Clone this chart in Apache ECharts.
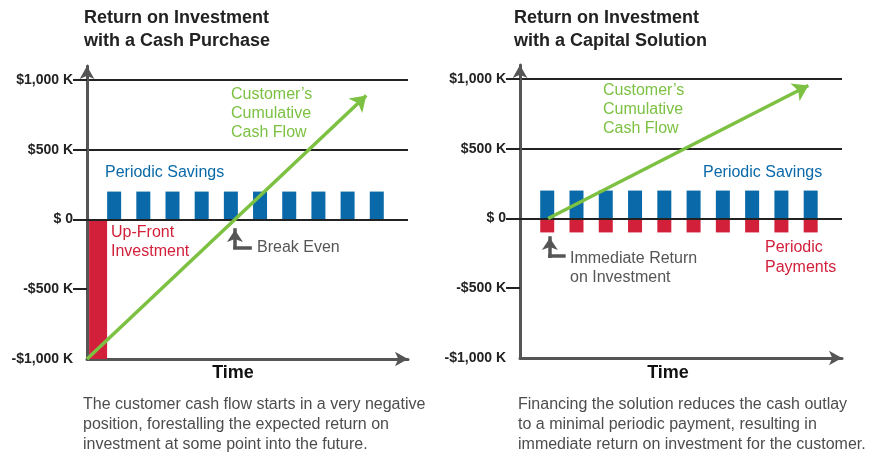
<!DOCTYPE html>
<html>
<head>
<meta charset="utf-8">
<script src="https://cdn.jsdelivr.net/npm/echarts@6/dist/echarts.min.js"></script>
<style>
html, body { margin: 0; padding: 0; background: #fff; }
#main { width: 875px; height: 452px; }
</style>
</head>
<body>
<div id="main"></div>
<script>
// values, in $K, time in periods
var yTicks = [-1000, -500, 0, 500, 1000];
var periods = [0.93, 1.93, 2.93, 3.93, 4.93, 5.93, 6.93, 7.93, 8.93, 9.93];

// cash purchase
var cashSavings = [200, 200, 200, 200, 200, 200, 200, 200, 200, 200];
var upFrontTime = [0.38];
var upFrontCost = [-1000];
var cashFlowTime = [0, 9.57];
var cashFlowValue = [-1000, 889];
var breakEvenTime = [5.07, 5.07, 5.59];
var breakEvenValue = [-75, -200, -200];

// capital solution
var capitalSavings = [200, 200, 200, 200, 200, 200, 200, 200, 200, 200];
var capitalPayments = [-100, -100, -100, -100, -100, -100, -100, -100, -100, -100];
var capitalFlowTime = [0.96, 9.85];
var capitalFlowValue = [0, 953];
var immediateTime = [1.02, 1.02, 1.5];
var immediateValue = [-140, -270, -270];

var BLUE = '#0a69a8';
var RED = '#d21f3a';
var GREEN = '#7cc142';
var GRAY = '#555555';
var DARK = '#222222';
var FONT = '"Liberation Sans", Arial, Helvetica, sans-serif';

function money(v) {
    if (v === 0) return '$ 0';
    var s = '$' + String(Math.abs(v)).replace(/\B(?=(\d{3})+(?!\d))/g, ',') + ' K';
    return v < 0 ? '-' + s : s;
}

function pairs(xs, ys) {
    return xs.map(function (x, i) { return [x, ys[i]]; });
}

function makeX(gridIndex, visible) {
    return {
        gridIndex: gridIndex, type: 'value', min: 0, max: 11, show: visible,
        axisLine: { show: true, onZero: false, symbol: ['none', 'arrow'], symbolSize: [11, 13],
            lineStyle: { color: GRAY, width: 3 } },
        axisTick: { show: false }, axisLabel: { show: false }, splitLine: { show: false }
    };
}

function makeY(gridIndex) {
    return {
        gridIndex: gridIndex, type: 'value', min: -1000, max: 1100, interval: 500,
        axisLine: { show: true, onZero: false, symbol: ['none', 'arrow'], symbolSize: [11, 13],
            lineStyle: { color: GRAY, width: 3 } },
        axisTick: { show: true, length: 14, customValues: yTicks.filter(function (v) { return v > -1000; }),
            lineStyle: { color: DARK, width: 2 } },
        axisLabel: { customValues: yTicks, formatter: money, margin: 14, color: DARK,
            fontSize: 14, fontWeight: 'bold', fontFamily: FONT },
        splitLine: { show: true, showMinLine: false, lineStyle: { color: DARK, width: 2 } }
    };
}

function elbow(xs, ys) {
    var st = { color: GRAY, width: 3.5, type: 'solid', cap: 'square' };
    return [
        [{ coord: [xs[0], ys[0]], symbol: 'arrow', symbolSize: 12, lineStyle: st }, { coord: [xs[1], ys[1]] }],
        [{ coord: [xs[1], ys[1]], lineStyle: st }, { coord: [xs[2], ys[2]] }]
    ];
}

function marks(flowX, flowY, elX, elY) {
    var data = [
        { yAxis: 0, lineStyle: { color: DARK, width: 2, type: 'solid' } },
        [{ coord: [flowX[0], flowY[0]], lineStyle: { color: GREEN, width: 3.5, type: 'solid' } },
         { coord: [flowX[1], flowY[1]], symbol: 'arrow', symbolSize: 15 }]
    ];
    return {
        silent: true, animation: false, symbol: ['none', 'none'],
        label: { show: false }, emphasis: { disabled: true },
        data: data.concat(elbow(elX, elY))
    };
}

var notes = [
    { x: 105, y: [173], lines: ['Periodic Savings'], color: BLUE },
    { x: 231, y: [95, 114, 133], lines: ['Customer’s', 'Cumulative', 'Cash Flow'], color: GREEN },
    { x: 111, y: [233, 252], lines: ['Up-Front', 'Investment'], color: RED },
    { x: 257, y: [248], lines: ['Break Even'], color: GRAY },
    { x: 603, y: [91, 110, 129], lines: ['Customer’s', 'Cumulative', 'Cash Flow'], color: GREEN },
    { x: 703, y: [173], lines: ['Periodic Savings'], color: BLUE },
    { x: 765, y: [248, 268], lines: ['Periodic', 'Payments'], color: RED },
    { x: 570, y: [259, 278], lines: ['Immediate Return', 'on Investment'], color: GRAY }
];
var captions = [
    { x: 83, lines: ['The customer cash flow starts in a very negative',
        'position, forestalling the expected return on',
        'investment at some point into the future.'] },
    { x: 518, lines: ['Financing the solution reduces the cash outlay',
        'to a minimal periodic payment, resulting in',
        'immediate return on investment for the customer.'] }
];

var graphics = [];
notes.forEach(function (n) {
    n.lines.forEach(function (t, i) {
        graphics.push({ type: 'text', x: n.x, y: n.y[i], silent: true,
            style: { text: t, fill: n.color, font: '16px ' + FONT, align: 'left', verticalAlign: 'middle' } });
    });
});
captions.forEach(function (c) {
    c.lines.forEach(function (t, i) {
        graphics.push({ type: 'text', x: c.x, y: 405 + i * 20, silent: true,
            style: { text: t, fill: '#4d4d4d', font: '16px ' + FONT, align: 'left', verticalAlign: 'middle' } });
    });
});
[233, 668].forEach(function (cx) {
    graphics.push({ type: 'text', x: cx, y: 373, silent: true,
        style: { text: 'Time', fill: '#111', font: 'bold 18px ' + FONT, align: 'center', verticalAlign: 'middle' } });
});

var myChart = echarts.init(document.getElementById('main'));
var option = {
    animation: false,
    backgroundColor: '#fff',
    title: [{
        text: 'Return on Investment\nwith a Cash Purchase', left: 84, top: 7, padding: 0,
        textStyle: { fontSize: 18, fontWeight: 'bold', lineHeight: 23, color: DARK, fontFamily: FONT }
    }, {
        text: 'Return on Investment\nwith a Capital Solution', left: 514, top: 7, padding: 0,
        textStyle: { fontSize: 18, fontWeight: 'bold', lineHeight: 23, color: DARK, fontFamily: FONT }
    }],
    grid: [
        { left: 87, top: 66, width: 321, height: 293 },
        { left: 520, top: 65, width: 322, height: 293 }
    ],
    xAxis: [makeX(0, true), makeX(0, false), makeX(1, true), makeX(1, false)],
    yAxis: [makeY(0), makeY(1)],
    graphic: graphics,
    series: [{
        name: 'Periodic Savings',
        type: 'bar', xAxisIndex: 0, yAxisIndex: 0, barWidth: 14,
        itemStyle: { color: BLUE },
        data: pairs(periods, cashSavings),
        markLine: marks(cashFlowTime, cashFlowValue, breakEvenTime, breakEvenValue)
    }, {
        name: 'Up-Front Investment',
        type: 'bar', xAxisIndex: 1, yAxisIndex: 0, barWidth: 18,
        itemStyle: { color: RED },
        data: pairs(upFrontTime, upFrontCost)
    }, {
        name: 'Periodic Savings',
        type: 'bar', xAxisIndex: 2, yAxisIndex: 1, barWidth: 14,
        itemStyle: { color: BLUE },
        data: pairs(periods, capitalSavings),
        markLine: marks(capitalFlowTime, capitalFlowValue, immediateTime, immediateValue)
    }, {
        name: 'Periodic Payments',
        type: 'bar', xAxisIndex: 3, yAxisIndex: 1, barWidth: 14,
        itemStyle: { color: RED },
        data: pairs(periods, capitalPayments)
    }]
};
myChart.setOption(option);
</script>
</body>
</html>
